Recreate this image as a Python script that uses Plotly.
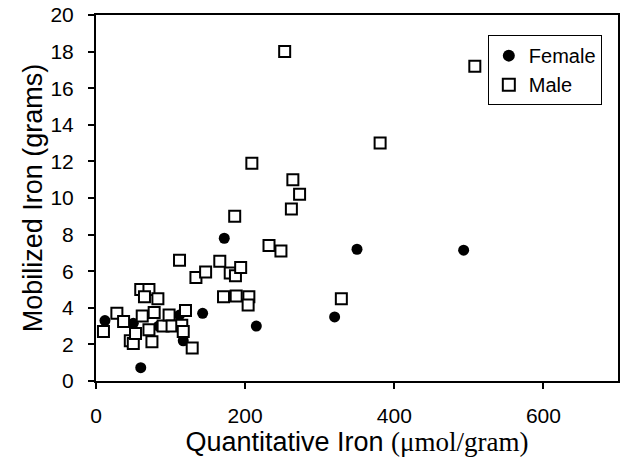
import plotly.graph_objects as go

female_x = [12, 50, 60, 84, 112, 117, 143, 172, 215, 320, 350, 493]
female_y = [3.3, 3.15, 0.73, 3.0, 3.6, 2.2, 3.7, 7.8, 3.0, 3.5, 7.2, 7.15]

male_x = [10, 28, 37, 46, 50, 53, 60, 71, 65, 83, 62, 78, 71, 75, 90, 98, 102, 112,
          115, 117, 120, 129, 134, 147, 166, 171, 180, 186, 187, 188, 194, 205, 204,
          209, 232, 248, 253, 262, 264, 273, 329, 381, 508]
male_y = [2.7, 3.7, 3.25, 2.2, 2.05, 2.6, 5.0, 5.0, 4.6, 4.5, 3.55, 3.75, 2.8, 2.15,
          3.0, 3.6, 3.0, 6.6, 3.05, 2.7, 3.85, 1.8, 5.65, 5.95, 6.55, 4.6, 5.9, 9.0,
          5.75, 4.65, 6.2, 4.6, 4.15, 11.9, 7.4, 7.1, 18.0, 9.4, 11.0, 10.2, 4.5, 13.0,
          17.2]

x_ticks = [0, 200, 400, 600]
y_ticks = [0, 2, 4, 6, 8, 10, 12, 14, 16, 18, 20]

font_family = "Liberation Sans, Arial, sans-serif"
serif_family = "'Liberation Serif', 'Times New Roman', serif"

fig = go.Figure()
fig.add_trace(go.Scatter(
    x=female_x, y=female_y, mode="markers", name="Female",
    marker=dict(symbol="circle", size=11, color="black",
                line=dict(color="black", width=0)),
))
fig.add_trace(go.Scatter(
    x=male_x, y=male_y, mode="markers", name="Male",
    marker=dict(symbol="square", size=11, color="white",
                line=dict(color="black", width=2)),
))

fig.update_layout(
    width=625, height=470,
    margin=dict(l=95.5, r=7, t=15, b=89, autoexpand=False),
    paper_bgcolor="white", plot_bgcolor="white",
    font=dict(family=font_family, size=21, color="black"),
    showlegend=True,
    legend=dict(
        x=0.969, y=0.945, xanchor="right", yanchor="top",
        bgcolor="white", bordercolor="black", borderwidth=1,
        font=dict(size=20, family=font_family, color="black"),
        itemsizing="constant", tracegroupgap=0, itemwidth=30,
    ),
    xaxis=dict(
        range=[0, 700], tickvals=x_ticks, ticks="outside", ticklen=6,
        tickwidth=1.5, tickcolor="black",
        showline=True, linecolor="black", linewidth=2, mirror=True,
        showgrid=False, zeroline=False, automargin=False,
        tickfont=dict(size=21), ticklabelstandoff=9,
        ticklabeloverflow="allow",
        title=dict(
            text="Quantitative Iron <span style=\"font-family:" + serif_family + "\">(μmol/gram)</span>",
            font=dict(size=27), standoff=0,
        ),
    ),
    yaxis=dict(
        range=[0, 20], tickvals=y_ticks, ticks="outside", ticklen=6,
        tickwidth=1.5, tickcolor="black",
        showline=True, linecolor="black", linewidth=2, mirror=True,
        showgrid=False, zeroline=False, automargin=False,
        tickfont=dict(size=21), ticklabelstandoff=10,
        ticklabeloverflow="allow",
        title=dict(text="Mobilized Iron (grams)", font=dict(size=27), standoff=0),
    ),
)

fig.write_html(
    "out.html",
    config={"displayModeBar": False},
    post_script="document.body.style.margin='0';document.body.style.overflow='hidden';",
)
